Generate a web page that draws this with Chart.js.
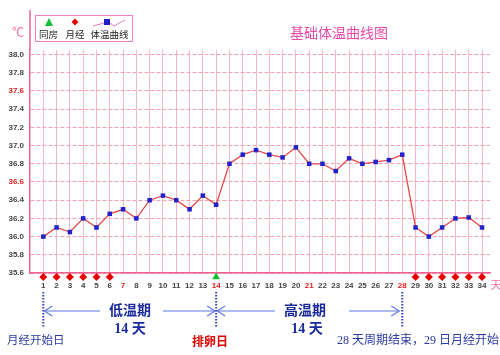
<!DOCTYPE html>
<html><head><meta charset="utf-8">
<script src="https://cdn.jsdelivr.net/npm/chart.js@4"></script>
<style>html,body{margin:0;padding:0;background:#fff}#wrap{width:500px;height:355px;position:relative}</style>
</head><body><div id="wrap"><canvas id="c" width="500" height="355"></canvas></div>
<script>
const days = [1,2,3,4,5,6,7,8,9,10,11,12,13,14,15,16,17,18,19,20,21,22,23,24,25,26,27,28,29,30,31,32,33,34];
const temps = [36.0,36.1,36.05,36.2,36.1,36.25,36.3,36.2,36.4,36.45,36.4,36.3,36.45,36.35,36.8,36.9,36.95,36.9,36.87,36.98,36.8,36.8,36.72,36.86,36.8,36.82,36.84,36.9,36.1,36.0,36.1,36.2,36.21,36.1];
const periodDays = [1,2,3,4,5,6,29,30,31,32,33,34];
const intercourseDays = [14];
const yTicks = [35.6,35.8,36.0,36.2,36.4,36.6,36.8,37.0,37.2,37.4,37.6,37.8,38.0];
const redYTicks = [37.6,36.6];
const redDays = [7,14,21,28];
const markLevel = 35.557;

const CJK = '"Noto Sans CJK SC", sans-serif';
const annot = {
  id:'annot',
  afterDraw(chart){
    const ctx = chart.ctx, x = chart.scales.x;
    const px = d => x.getPixelForValue(d);
    ctx.save();
    ctx.fillStyle = '#f06aa8'; ctx.font = '12px ' + CJK; ctx.textAlign='center'; ctx.textBaseline='middle';
    ctx.fillText('℃', 18, 32);
    ctx.fillStyle = '#e848a8'; ctx.font = '14px ' + CJK;
    ctx.fillText('基础体温曲线图', 339, 33);
    ctx.strokeStyle = '#f06090'; ctx.lineWidth = 1.5;
    ctx.beginPath(); ctx.moveTo(chart.chartArea.left, 10); ctx.lineTo(chart.chartArea.left, chart.chartArea.top); ctx.stroke();
    // legend box
    ctx.fillStyle='#fff'; ctx.fillRect(35,15,98,27);
    ctx.strokeStyle='#ee80c0'; ctx.lineWidth=1; ctx.strokeRect(35.5,15.5,97,26);
    ctx.fillStyle='#10c030'; ctx.beginPath(); ctx.moveTo(49,18); ctx.lineTo(53,26); ctx.lineTo(45,26); ctx.closePath(); ctx.fill();
    ctx.fillStyle='#e80000'; ctx.beginPath(); ctx.moveTo(75,18.5); ctx.lineTo(78.5,22); ctx.lineTo(75,25.5); ctx.lineTo(71.5,22); ctx.closePath(); ctx.fill();
    ctx.strokeStyle='#e878c0'; ctx.lineWidth=1; ctx.beginPath(); ctx.moveTo(93,26); ctx.lineTo(104,23); ctx.moveTo(110,23); ctx.lineTo(114,26); ctx.lineTo(125,20); ctx.stroke();
    ctx.fillStyle='#2020c8'; ctx.fillRect(104,19,6,6);
    ctx.fillStyle='#222'; ctx.font='9.5px ' + CJK;
    ctx.fillText('同房',48.5,34.5); ctx.fillText('月经',75,34.5); ctx.fillText('体温曲线',109.5,34.5);
    ctx.fillStyle='#f06aa8'; ctx.font='11px ' + CJK; ctx.fillText('天',496,285);
    // dotted verticals
    ctx.strokeStyle='#3040c0'; ctx.lineWidth=2; ctx.setLineDash([1.5,1.5]);
    [1,14,28].forEach(d=>{ctx.beginPath(); ctx.moveTo(px(d),292); ctx.lineTo(px(d),328); ctx.stroke();});
    ctx.setLineDash([]);
    const ay = 311;
    ctx.strokeStyle='#6078e0'; ctx.lineWidth=1.2;
    const seg=(a,b)=>{ctx.beginPath(); ctx.moveTo(a,ay); ctx.lineTo(b,ay); ctx.stroke();};
    const headL=(x0)=>{ctx.beginPath(); ctx.moveTo(x0+8,ay-5); ctx.lineTo(x0,ay); ctx.lineTo(x0+8,ay+5); ctx.stroke();};
    const headR=(x0)=>{ctx.beginPath(); ctx.moveTo(x0-8,ay-5); ctx.lineTo(x0,ay); ctx.lineTo(x0-8,ay+5); ctx.stroke();};
    const x1=px(1), x14=px(14), x28=px(28);
    seg(x1+1,100); headL(x1+1); seg(163,x14-1); headR(x14-1);
    seg(x14+1,275); headL(x14+1); seg(349,x28-3); headR(x28-3);
    ctx.fillStyle='#1a2a9a'; ctx.font='bold 14px ' + CJK;
    ctx.fillText('低温期',130,310); ctx.fillText('高温期',305,310);
    ctx.font='bold 14px "Liberation Serif", ' + CJK;
    ctx.fillText('14 天',130,329); ctx.fillText('14 天',307,329);
    ctx.font='11.5px "Liberation Serif", ' + CJK; ctx.fillStyle='#2a3aa0';
    ctx.textAlign='left';
    ctx.fillText('月经开始日',7,341);
    ctx.font='12px "Liberation Serif", ' + CJK;
    ctx.fillText('28 天周期结束，29 日月经开始',337,341);
    ctx.textAlign='center'; ctx.fillStyle='#e00000'; ctx.font='bold 12px ' + CJK;
    ctx.fillText('排卵日',210,341);
    ctx.restore();
  }
};

new Chart(document.getElementById('c'), {
  type:'line',
  data:{datasets:[
    {label:'体温曲线', data: days.map((d,i)=>({x:d,y:temps[i]})), borderColor:'#e84848', borderWidth:1.3,
     pointStyle:'rect', pointRadius:3.2, pointBackgroundColor:'#2222cc', pointBorderColor:'#2222cc', pointBorderWidth:0, tension:0, order:1},
    {label:'月经', data: periodDays.map(d=>({x:d,y:markLevel})), showLine:false, pointStyle:'rectRot', pointRadius:4, pointHoverRadius:8,
     pointBackgroundColor:'#e80000', pointBorderColor:'#e80000', pointBorderWidth:0, clip:false, order:0},
    {label:'同房', data: intercourseDays.map(d=>({x:d,y:markLevel})), showLine:false, pointStyle:'triangle', pointRadius:4.5, pointHoverRadius:8,
     pointBackgroundColor:'#10c030', pointBorderColor:'#10c030', pointBorderWidth:0, clip:false, order:0}
  ]},
  options:{
    responsive:false, animation:false, devicePixelRatio:1,
    layout:{padding:{top:50,right:10,left:0,bottom:0}},
    plugins:{legend:{display:false}, title:{display:false}, tooltip:{enabled:false}},
    scales:{
      x:{type:'linear', min:0, max:34.6,
        afterBuildTicks:s=>{s.ticks = days.map(d=>({value:d}));},
        afterFit:s=>{s.height = 82;},
        grid:{color:'#f6b8c4', lineWidth:1, drawTicks:false},
        border:{color:'#f06090', width:1.5},
        ticks:{autoSkip:false, maxRotation:0, padding:8, font:{size:8, weight:'bold', family:'"Liberation Sans", Arial'},
          color: c => redDays.includes(c.tick.value) ? '#e02020' : '#444',
          callback: v => String(v)}
      },
      y:{type:'linear', min:35.6, max:38.05,
        afterBuildTicks:s=>{s.ticks = yTicks.map(v=>({value:v}));},
        afterFit:s=>{s.width = 30;},
        grid:{color:'#f4a0b0', lineWidth:1, drawTicks:false},
        border:{color:'#f06090', width:1.5, dash:[4,2]},
        ticks:{padding:6, font:{size:8, weight:'bold', family:'"Liberation Sans", Arial'},
          color: c => redYTicks.some(v=>Math.abs(v-c.tick.value)<1e-6) ? '#e02020' : '#444',
          callback: v => Number(v).toFixed(1)}
      }
    }
  },
  plugins:[annot]
});
</script></body></html>
